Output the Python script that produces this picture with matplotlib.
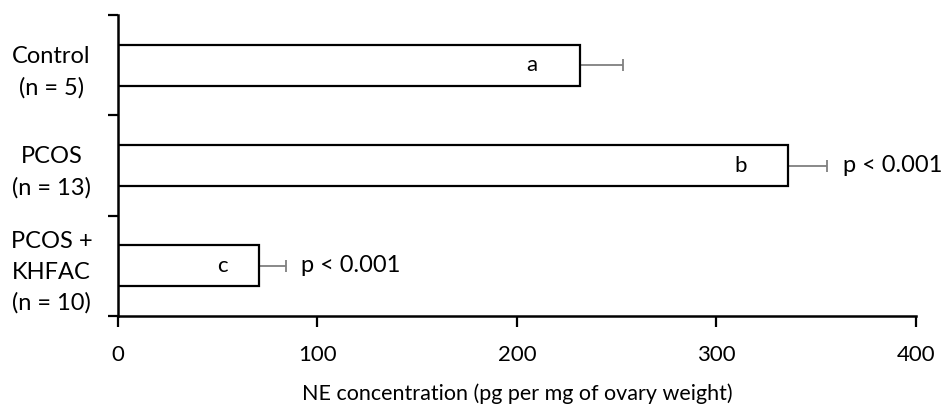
import matplotlib
matplotlib.use("Agg")
import matplotlib.pyplot as plt
import numpy as np

plt.rcParams['font.family'] = ['Lato', 'DejaVu Sans']

categories = ["Control\n(n = 5)", "PCOS\n(n = 13)", "PCOS +\nKHFAC\n(n = 10)"]
values = [231.5, 336.0, 70.5]
errors = [21.5, 19.5, 13.5]
letters = ["a", "b", "c"]
pvals = ["", "p < 0.001", "p < 0.001"]
xticks = [0, 100, 200, 300, 400]

FS = 16

fig = plt.figure(figsize=(9.5, 4.08), dpi=100)
ax = fig.add_axes([0.1242, 0.2255, 0.8398, 0.7375])

n = len(categories)
pos = np.arange(n)[::-1]  # top to bottom
ax.barh(pos, values, height=0.41, color='white', edgecolor='black', linewidth=1.6, zorder=2)
ax.errorbar(values, pos, xerr=[np.zeros(n), errors], fmt='none', ecolor='#7f7f7f',
            elinewidth=1.3, capsize=4, capthick=1.3, zorder=1)

for i in range(n):
    off = 24 if values[i] > 150 else 18
    ax.text(values[i] - off, pos[i], letters[i], ha='center', va='center', fontsize=FS)
    if pvals[i]:
        ax.text(values[i] + errors[i] + 8, pos[i], pvals[i], ha='left', va='center', fontsize=17)

ax.set_xlim(0, 400)
ax.set_ylim(-0.5, n - 0.5)
ax.set_xticks(xticks)
ax.set_xticklabels([str(t) for t in xticks], fontsize=FS)
ax.set_yticks(np.arange(n + 1) - 0.5)
ax.set_yticklabels([])
ax.set_yticks(pos, minor=True)
ax.set_yticklabels(categories, minor=True, fontsize=17, ha='center', linespacing=1.55)
ax.tick_params(axis='y', which='minor', length=0, pad=48)
ax.tick_params(axis='y', which='major', length=7, width=1.6, direction='out')
ax.tick_params(axis='x', length=8, width=1.6, direction='out', pad=13)

for s in ['top', 'right']:
    ax.spines[s].set_visible(False)
for s in ['left', 'bottom']:
    ax.spines[s].set_linewidth(1.8)

ax.set_xlabel("NE concentration (pg per mg of ovary weight)", fontsize=15.5, labelpad=13)

fig.savefig("out.png", dpi=100)
